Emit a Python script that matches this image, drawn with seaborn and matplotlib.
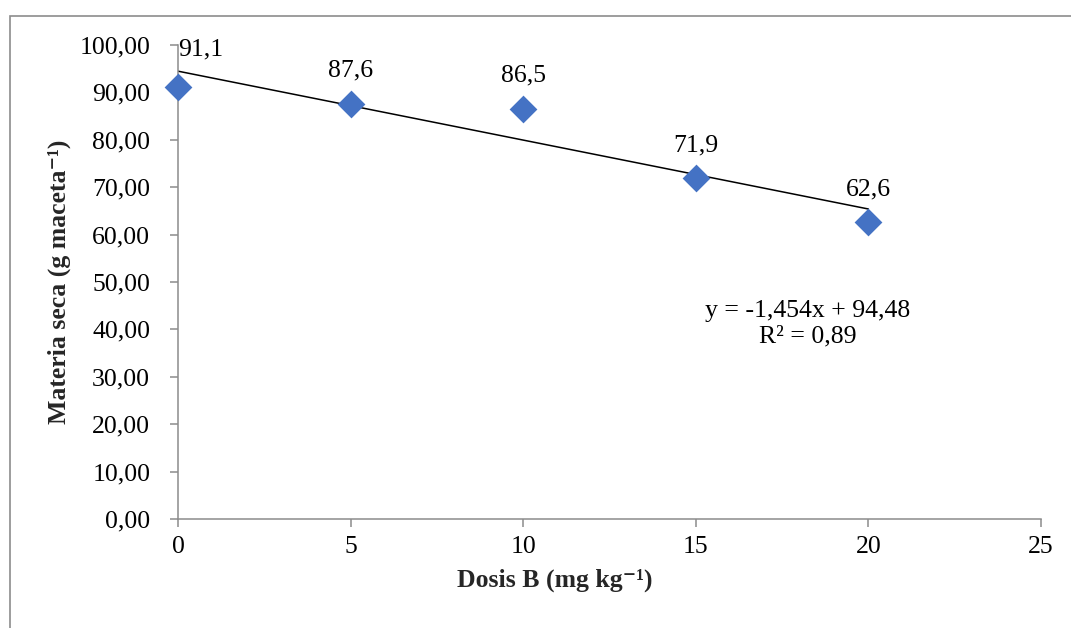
import matplotlib
matplotlib.use("Agg")
import matplotlib.pyplot as plt
import seaborn as sns
import numpy as np
import pandas as pd
from matplotlib.patches import Rectangle

dosis = [0, 5, 10, 15, 20]
materia = [91.1, 87.6, 86.5, 71.9, 62.6]
labels = ["91,1", "87,6", "86,5", "71,9", "62,6"]
slope = -1.454
intercept = 94.48
r2_text = "R² = 0,89"
eq_text = "y = -1,454x + 94,48"
yticks = [0, 10, 20, 30, 40, 50, 60, 70, 80, 90, 100]
xticks = [0, 5, 10, 15, 20, 25]

sns.set_theme(style="white")
plt.rcParams['font.family'] = ['Liberation Serif', 'DejaVu Serif']

FS = 18.5
df = pd.DataFrame({"Dosis": dosis, "Materia": materia})

fig = plt.figure(figsize=(10.71, 6.28), dpi=100)
ax = fig.add_axes([178/1071, 1-519/628, (1041-178)/1071, (519-45)/628])

# figure border
fig.patches.append(Rectangle((10/1071, -0.1), 1.2, 1-16/628+0.1, transform=fig.transFigure,
                             fill=False, edgecolor='#8c8c8c', linewidth=1.2))

# trendline
xl = np.array([dosis[0], dosis[-1]])
ax.plot(xl, slope*xl + intercept, color='black', linewidth=1.1, zorder=2)

sns.scatterplot(data=df, x="Dosis", y="Materia", marker='D', s=200, color='#4472C4',
                edgecolor='#4472C4', linewidth=0, ax=ax, zorder=3, clip_on=False)

offs = [(16, 19), (0, 16), (0, 16), (0, 16), (0, 16)]
for xv, yv, lab, o in zip(dosis, materia, labels, offs):
    ax.annotate(lab, (xv, yv), xytext=o, textcoords='offset points', ha='center',
                va='bottom', fontsize=FS, color='black')

ax.text(18.25, 41.2, eq_text + "\n" + r2_text, ha='center', va='center', fontsize=FS,
        linespacing=1.25, color='black')

ax.set_xlim(0, 25)
ax.set_ylim(0, 100)
ax.set_xticks(xticks)
ax.set_yticks(yticks)
ax.set_xticklabels([str(t) for t in xticks], fontsize=FS)
ax.set_yticklabels([f"{t:.2f}".replace('.', ',') for t in yticks], fontsize=FS)
for s in ['top', 'right']:
    ax.spines[s].set_visible(False)
for s in ['left', 'bottom']:
    ax.spines[s].set_color('#8c8c8c')
    ax.spines[s].set_linewidth(1.1)
ax.tick_params(axis='both', which='both', direction='out', length=6, width=1.1,
               color='#8c8c8c', labelcolor='black', bottom=True, left=True)
ax.tick_params(axis='x', pad=6)
ax.tick_params(axis='y', pad=14)

ax.set_xlabel('Dosis B (mg kg\u207b\u00b9)', fontsize=FS, fontweight='bold')
ax.xaxis.set_label_coords(0.437, -0.105)
ax.set_ylabel('Materia seca (g maceta\u207b\u00b9)', fontsize=FS, fontweight='bold', labelpad=6)

fig.savefig("out.png", dpi=100)
